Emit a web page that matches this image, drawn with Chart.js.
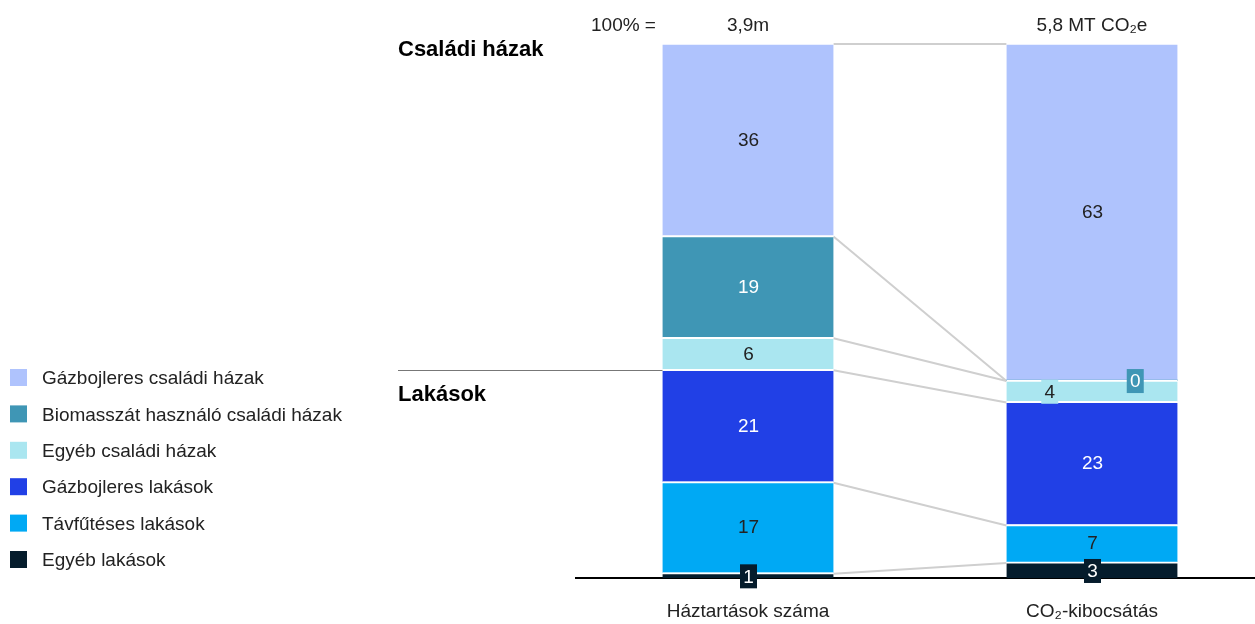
<!DOCTYPE html>
<html>
<head>
<meta charset="utf-8">
<script src="https://cdn.jsdelivr.net/npm/chart.js@4"></script>
<style>
  html, body { margin: 0; padding: 0; background: #fff; overflow: hidden; }
  #wrap { width: 1264px; height: 624px; }
</style>
</head>
<body>
<div id="wrap"><canvas id="chart" width="1264" height="624"></canvas></div>
<script>
const categories = ["Háztartások száma", "CO₂-kibocsátás"];
const totals = ["3,9m", "5,8 MT CO₂e"];
const groupLabels = ["Családi házak", "Lakások"];

// series in legend order (top of the stack first)
const seriesNames = [
  "Gázbojleres családi házak",
  "Biomasszát használó családi házak",
  "Egyéb családi házak",
  "Gázbojleres lakások",
  "Távfűtéses lakások",
  "Egyéb lakások"
];
const gazCsaladi = [36, 63];
const biomassza = [19, 0];
const egyebCsaladi = [6, 4];
const gazLakas = [21, 23];
const tavfutes = [17, 7];
const egyebLakas = [1, 3];

const seriesValues = [gazCsaladi, biomassza, egyebCsaladi, gazLakas, tavfutes, egyebLakas];
const colors = ["#afc3fd", "#3f96b5", "#aae6f0", "#2140e6", "#00a9f4", "#051c2c"];
const textColors = ["#222", "#fff", "#222", "#fff", "#222", "#fff"];

const FONT = '"Liberation Sans", Arial, sans-serif';
Chart.defaults.font.family = FONT;

// chart.js stacks from the first dataset up, so the bottom series goes first
const datasets = seriesNames.map((name, i) => ({
  label: name,
  data: seriesValues[i],
  backgroundColor: colors[i],
  borderColor: "#fff",
  borderWidth: { top: 2, left: 0, right: 0, bottom: 0 },
  borderSkipped: false,
  barThickness: 171,
  labelColor: textColors[i]
})).reverse();

// small segments get a boxed label; shift is a fraction of the bar width
const boxShift = { "Egyéb családi házak|1": -0.25, "Biomasszát használó családi házak|1": 0.25 };

// grey lines joining the segment edges of the two bars
const connectors = {
  id: "connectors",
  beforeDatasetsDraw(chart) {
    const { ctx } = chart;
    const y = chart.scales.y;
    const meta = chart.getDatasetMeta(0);
    const l = meta.data[0], r = meta.data[1];
    const x1 = l.x + l.width / 2, x2 = r.x - r.width / 2;
    let a = 0, b = 0;
    ctx.save();
    ctx.strokeStyle = "#cfcfcf";
    ctx.lineWidth = 2;
    chart.data.datasets.forEach(ds => {
      a += ds.data[0];
      b += ds.data[1];
      ctx.beginPath();
      ctx.moveTo(x1, y.getPixelForValue(a) + 1);
      ctx.lineTo(x2, y.getPixelForValue(b) + 1);
      ctx.stroke();
    });
    ctx.restore();
  }
};

// value labels inside the segments
const valueLabels = {
  id: "valueLabels",
  afterDatasetsDraw(chart) {
    const { ctx } = chart;
    ctx.save();
    ctx.font = "19px " + FONT;
    ctx.textAlign = "center";
    ctx.textBaseline = "middle";
    chart.data.datasets.forEach((ds, di) => {
      chart.getDatasetMeta(di).data.forEach((el, i) => {
        const v = ds.data[i];
        let x = el.x;
        const y = (el.y + el.base) / 2 + (v < 5 ? 1 : 0);
        if (v < 5) {
          x += (boxShift[ds.label + "|" + i] || 0) * el.width;
          ctx.fillStyle = ds.backgroundColor;
          ctx.fillRect(x - 8, y - 12, 17, 24);
        }
        ctx.fillStyle = ds.labelColor;
        ctx.fillText(String(v), x + 0.5, y + 1);
      });
    });
    ctx.restore();
  }
};

// legend, group headings and the totals row
const annotations = {
  id: "annotations",
  afterDraw(chart) {
    const { ctx } = chart;
    const y = chart.scales.y;
    const meta = chart.getDatasetMeta(0);
    ctx.save();
    ctx.textBaseline = "middle";

    // legend, top series first
    ctx.font = "19px " + FONT;
    ctx.textAlign = "left";
    seriesNames.forEach((name, i) => {
      const cy = 378 + i * 36.4;
      ctx.fillStyle = colors[i];
      ctx.fillRect(10, cy - 9, 17, 17);
      ctx.fillStyle = "#222";
      ctx.fillText(name, 42, cy + 1);
    });

    // group headings
    ctx.font = "bold 22px " + FONT;
    ctx.fillStyle = "#000";
    ctx.fillText(groupLabels[0], 398, 50);
    const split = y.getPixelForValue(egyebLakas[0] + tavfutes[0] + gazLakas[0]);
    ctx.fillText(groupLabels[1], 398, 395);
    ctx.strokeStyle = "#777";
    ctx.lineWidth = 1;
    ctx.beginPath();
    ctx.moveTo(398, Math.round(split) + 1.5);
    ctx.lineTo(meta.data[0].x - meta.data[0].width / 2, Math.round(split) + 1.5);
    ctx.stroke();

    // 100% totals above the bars
    ctx.font = "19px " + FONT;
    ctx.fillStyle = "#222";
    ctx.textAlign = "left";
    ctx.fillText("100% =", 591, 26);
    ctx.textAlign = "center";
    totals.forEach((t, i) => ctx.fillText(t, meta.data[i].x, 26));
    ctx.restore();
  }
};

new Chart(document.getElementById("chart"), {
  type: "bar",
  data: { labels: categories, datasets: datasets },
  options: {
    responsive: false,
    animation: false,
    layout: { padding: { left: 576, top: 43, right: 0, bottom: 0 } },
    plugins: { legend: { display: false }, tooltip: { enabled: false } },
    scales: {
      x: {
        stacked: true,
        offset: true,
        grid: { display: false },
        border: { color: "#000", width: 2 },
        ticks: { color: "#222", font: { size: 19 }, padding: 14 },
        afterFit(scale) { scale.height = 46; }
      },
      y: { stacked: true, min: 0, max: 100, display: false }
    }
  },
  plugins: [connectors, valueLabels, annotations]
});
</script>
</body>
</html>
